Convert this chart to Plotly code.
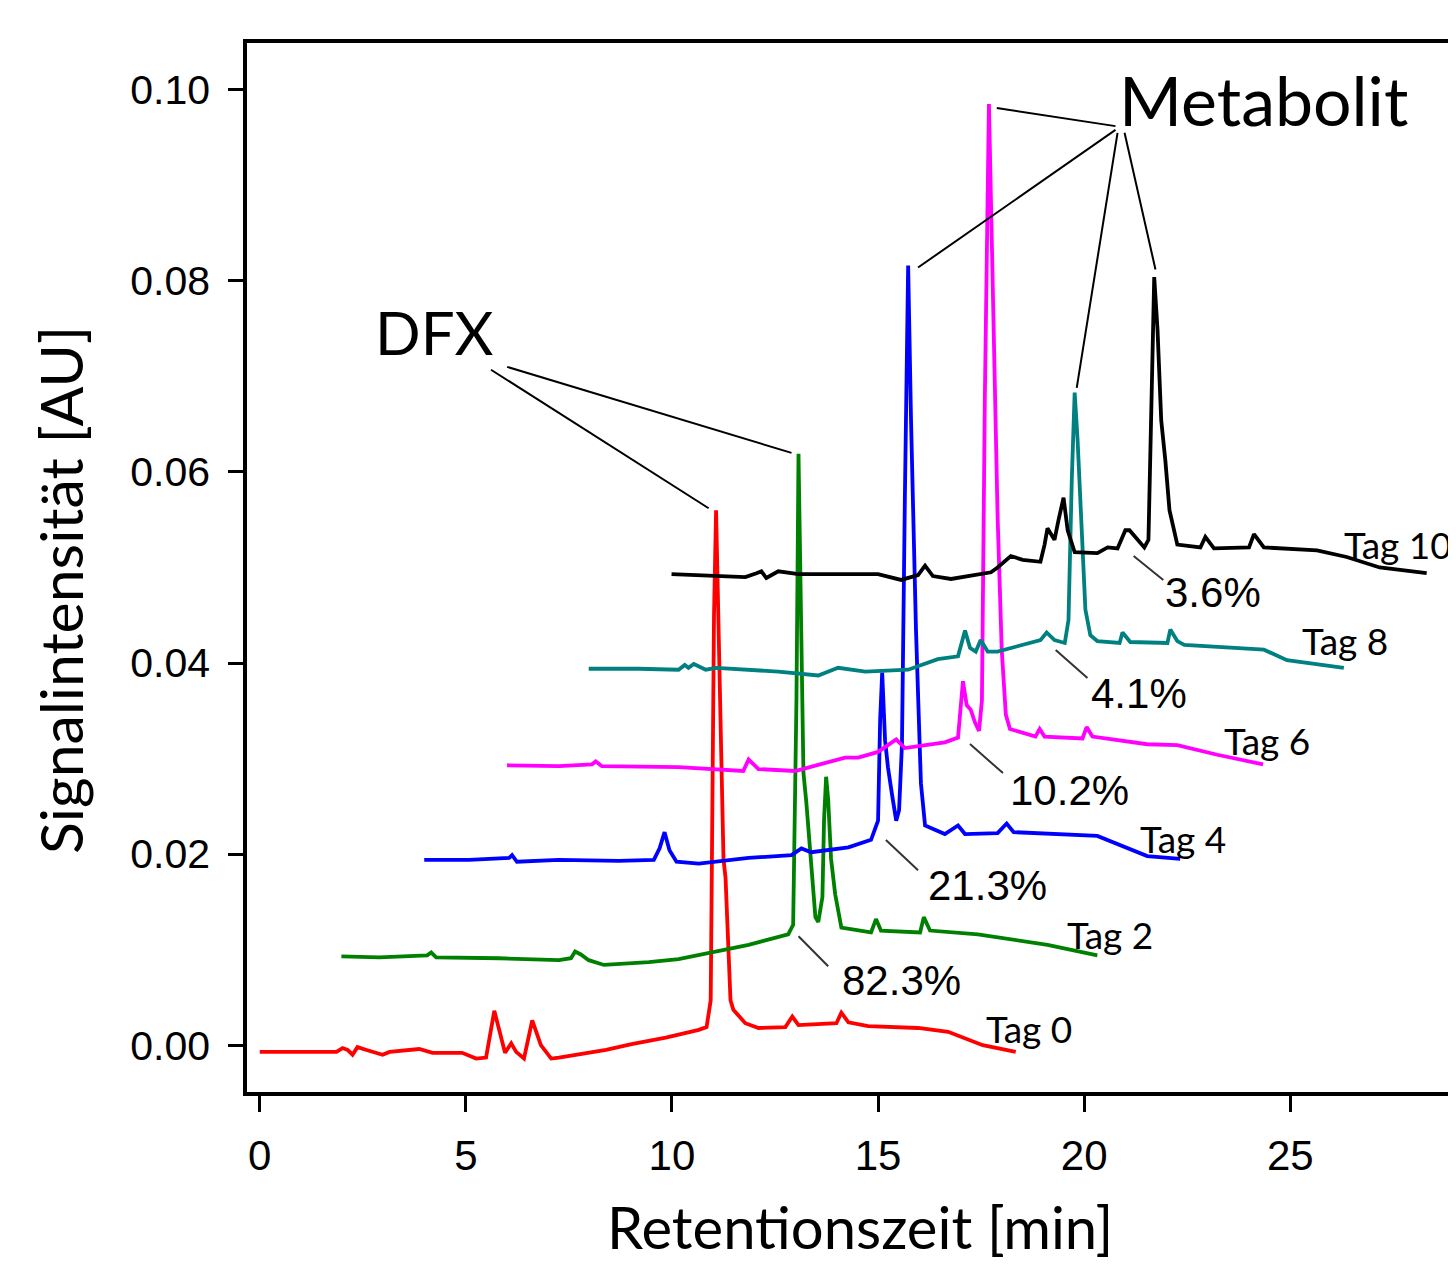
import plotly.graph_objects as go

# ---------------- data (retention time [min], signal [AU]) ----------------
tag0_t = [0.0, 1.86, 2.01, 2.13, 2.25, 2.37, 2.59, 2.98, 3.15, 3.87, 4.19, 4.91, 5.25, 5.49, 5.69, 5.95, 6.10, 6.22, 6.41, 6.61, 6.82, 7.07, 7.26, 8.40, 9.02, 9.85, 10.65, 10.84, 10.94, 10.98, 11.02, 11.07, 11.12, 11.18, 11.25, 11.30, 11.42, 11.49, 11.78, 12.10, 12.75, 12.92, 13.07, 13.99, 14.11, 14.28, 14.76, 15.97, 16.70, 17.54, 17.90, 18.34]
tag0_y = [-0.0007, -0.0007, -0.0003, -0.0005, -0.0010, -0.0002, -0.0005, -0.0010, -0.0007, -0.0004, -0.0008, -0.0008, -0.0014, -0.0013, 0.0036, -0.0008, 0.0002, -0.0007, -0.0014, 0.0026, 0.0000, -0.0014, -0.0013, -0.0005, 0.0001, 0.0008, 0.0016, 0.0019, 0.0047, 0.0274, 0.0450, 0.0560, 0.0450, 0.0339, 0.0195, 0.0175, 0.0047, 0.0037, 0.0023, 0.0018, 0.0019, 0.0030, 0.0021, 0.0023, 0.0034, 0.0024, 0.0020, 0.0018, 0.0014, 0.0000, -0.0003, -0.0007]

tag2_t = [1.98, 2.90, 4.06, 4.16, 4.28, 5.81, 7.26, 7.55, 7.65, 7.79, 7.98, 8.35, 9.44, 10.16, 11.86, 12.82, 12.94, 13.02, 13.07, 13.14, 13.19, 13.26, 13.36, 13.48, 13.55, 13.65, 13.69, 13.74, 13.79, 13.86, 13.96, 14.11, 14.83, 14.95, 15.07, 16.02, 16.11, 16.26, 17.42, 19.11, 20.32]
tag2_y = [0.0093, 0.0092, 0.0094, 0.0097, 0.0092, 0.0091, 0.0089, 0.0091, 0.0098, 0.0095, 0.0089, 0.0084, 0.0087, 0.0090, 0.0105, 0.0116, 0.0126, 0.0361, 0.0619, 0.0414, 0.0285, 0.0254, 0.0195, 0.0134, 0.0129, 0.0155, 0.0236, 0.0281, 0.0257, 0.0195, 0.0158, 0.0123, 0.0118, 0.0132, 0.0120, 0.0118, 0.0134, 0.0120, 0.0116, 0.0105, 0.0094]

tag4_t = [3.99, 5.08, 6.05, 6.12, 6.24, 7.26, 8.71, 9.56, 9.70, 9.82, 9.94, 10.11, 10.65, 11.86, 12.90, 13.14, 13.38, 14.28, 14.83, 15.00, 15.05, 15.10, 15.17, 15.24, 15.34, 15.44, 15.51, 15.58, 15.65, 15.73, 15.80, 15.92, 16.04, 16.14, 16.62, 16.94, 17.11, 17.90, 18.12, 18.29, 20.32, 21.53, 22.33]
tag4_y = [0.0194, 0.0194, 0.0196, 0.0199, 0.0192, 0.0194, 0.0193, 0.0194, 0.0206, 0.0223, 0.0204, 0.0192, 0.0190, 0.0196, 0.0199, 0.0206, 0.0202, 0.0207, 0.0215, 0.0235, 0.0340, 0.0390, 0.0319, 0.0291, 0.0262, 0.0235, 0.0246, 0.0315, 0.0571, 0.0816, 0.0654, 0.0435, 0.0274, 0.0230, 0.0221, 0.0230, 0.0221, 0.0222, 0.0232, 0.0223, 0.0219, 0.0198, 0.0195]

tag6_t = [6.00, 7.26, 8.06, 8.15, 8.30, 10.16, 11.73, 11.86, 12.10, 12.99, 14.20, 14.52, 15.00, 15.44, 15.65, 16.62, 16.94, 17.01, 17.06, 17.15, 17.25, 17.35, 17.45, 17.52, 17.59, 17.69, 17.78, 17.86, 17.90, 18.00, 18.10, 18.20, 18.82, 18.92, 19.04, 19.96, 20.06, 20.20, 21.53, 22.26, 23.23, 24.34]
tag6_y = [0.0293, 0.0292, 0.0294, 0.0297, 0.0292, 0.0291, 0.0287, 0.0299, 0.0289, 0.0287, 0.0301, 0.0301, 0.0307, 0.0320, 0.0311, 0.0317, 0.0322, 0.0351, 0.0381, 0.0356, 0.0351, 0.0338, 0.0329, 0.0361, 0.0675, 0.0985, 0.0780, 0.0602, 0.0554, 0.0414, 0.0346, 0.0331, 0.0323, 0.0331, 0.0323, 0.0321, 0.0333, 0.0323, 0.0315, 0.0314, 0.0304, 0.0294]

tag8_t = [7.98, 9.19, 10.16, 10.31, 10.40, 10.53, 10.82, 11.08, 12.58, 13.55, 14.03, 14.69, 15.73, 16.45, 16.94, 17.01, 17.11, 17.23, 17.37, 17.49, 17.66, 17.90, 18.56, 18.94, 19.09, 19.28, 19.53, 19.62, 19.70, 19.77, 19.84, 19.94, 20.03, 20.15, 20.32, 20.86, 20.93, 21.12, 22.02, 22.09, 22.26, 22.43, 24.36, 24.92, 26.30]
tag8_y = [0.0394, 0.0394, 0.0393, 0.0398, 0.0395, 0.0399, 0.0393, 0.0395, 0.0391, 0.0387, 0.0395, 0.0391, 0.0393, 0.0404, 0.0407, 0.0419, 0.0434, 0.0416, 0.0412, 0.0424, 0.0412, 0.0412, 0.0420, 0.0424, 0.0432, 0.0424, 0.0421, 0.0445, 0.0592, 0.0683, 0.0634, 0.0529, 0.0456, 0.0429, 0.0423, 0.0421, 0.0432, 0.0422, 0.0421, 0.0435, 0.0423, 0.0419, 0.0414, 0.0403, 0.0395]

tag10_t = [9.99, 10.65, 11.78, 12.05, 12.17, 12.29, 12.58, 13.07, 14.28, 15.00, 15.56, 15.97, 16.14, 16.33, 16.77, 17.74, 17.90, 18.22, 18.51, 18.94, 19.04, 19.11, 19.21, 19.28, 19.38, 19.50, 19.60, 19.77, 20.32, 20.57, 20.81, 21.00, 21.10, 21.29, 21.46, 21.56, 21.63, 21.70, 21.78, 21.87, 21.97, 22.07, 22.26, 22.82, 22.94, 23.15, 24.00, 24.12, 24.36, 25.65, 26.37, 27.17, 28.31]
tag10_y = [0.0493, 0.0492, 0.0490, 0.0494, 0.0496, 0.0489, 0.0496, 0.0493, 0.0493, 0.0493, 0.0487, 0.0492, 0.0502, 0.0491, 0.0488, 0.0495, 0.0500, 0.0512, 0.0508, 0.0506, 0.0524, 0.0541, 0.0534, 0.0529, 0.0550, 0.0573, 0.0539, 0.0516, 0.0515, 0.0521, 0.0520, 0.0539, 0.0539, 0.0529, 0.0521, 0.0529, 0.0654, 0.0804, 0.0749, 0.0654, 0.0612, 0.0560, 0.0524, 0.0521, 0.0532, 0.0520, 0.0521, 0.0535, 0.0521, 0.0518, 0.0511, 0.0500, 0.0494]

series_names = ["Tag 0", "Tag 2", "Tag 4", "Tag 6", "Tag 8", "Tag 10"]
series_colors = ["#ff0000", "#008000", "#0000ff", "#ff00ff", "#008080", "#000000"]
series_t = [tag0_t, tag2_t, tag4_t, tag6_t, tag8_t, tag10_t]
series_y = [tag0_y, tag2_y, tag4_y, tag6_y, tag8_y, tag10_y]

# label positions (t, y) for day labels
label_t = [18.66, 20.62, 22.41, 24.44, 26.33, 26.25]
label_y = [0.00178, 0.01162, 0.02168, 0.03194, 0.04241, 0.05236]

# percentage annotations: text, text position, leader line start/end
pct_text = ["82.3%", "21.3%", "10.2%", "4.1%", "3.6%"]
pct_t = [15.56, 17.66, 19.65, 21.34, 23.13]
pct_y = [0.00681, 0.01675, 0.02670, 0.03686, 0.04743]
pct_line = [(13.07, 0.01141, 13.79, 0.00827),
            (15.19, 0.02147, 15.97, 0.01832),
            (17.23, 0.03152, 18.03, 0.02848),
            (19.31, 0.04136, 20.08, 0.03843),
            (21.20, 0.05120, 21.92, 0.04869)]

dfx_pos = (4.23, 0.0747)
dfx_lines = [(5.61, 0.0707, 10.89, 0.0562), (6.00, 0.0710, 12.90, 0.0620)]
met_pos = (24.34, 0.0990)
met_lines = [(20.76, 0.0962, 17.88, 0.0981), (20.76, 0.0958, 15.97, 0.0814),
             (20.81, 0.0955, 19.82, 0.0688), (20.98, 0.0955, 21.73, 0.0812)]

x_ticks = [0, 5, 10, 15, 20, 25]
y_ticks = [0.00, 0.02, 0.04, 0.06, 0.08, 0.10]

# ---------------- figure ----------------
fig = go.Figure()
for name, col, t, y in zip(series_names, series_colors, series_t, series_y):
    fig.add_trace(go.Scatter(x=t, y=y, mode="lines", name=name,
                             line=dict(color=col, width=3.8), showlegend=False))

TXT = "Lato"
NUM = "Liberation Sans"

ann = []
for name, t, y in zip(series_names, label_t, label_y):
    ann.append(dict(x=t, y=y, text=name, showarrow=False, xanchor="left" if name == "Tag 10" else "center",
                    yanchor="middle", font=dict(family=TXT, size=37, color="black")))
for txt, t, y in zip(pct_text, pct_t, pct_y):
    ann.append(dict(x=t, y=y, text=txt, showarrow=False, xanchor="center", yanchor="middle",
                    font=dict(family=NUM, size=42, color="black")))
ann.append(dict(x=dfx_pos[0], y=dfx_pos[1], text="DFX", showarrow=False, xanchor="center", yanchor="middle",
                font=dict(family=TXT, size=60, color="black")))
ann.append(dict(x=met_pos[0], y=met_pos[1], text="Metabolit", showarrow=False, xanchor="center", yanchor="middle",
                font=dict(family=TXT, size=68, color="black")))
ann.append(dict(xref="paper", yref="paper", x=0.509, y=-0.128, text="Retentionszeit [min]", showarrow=False,
                xanchor="center", yanchor="middle", font=dict(family=TXT, size=58, color="black")))
ann.append(dict(xref="paper", yref="paper", x=-0.155, y=0.479, text="Signalintensität [AU]", showarrow=False,
                textangle=-90, xanchor="center", yanchor="middle", font=dict(family=TXT, size=59, color="black")))

shapes = []
for (x0, y0, x1, y1) in pct_line:
    shapes.append(dict(type="line", x0=x0, y0=y0, x1=x1, y1=y1, line=dict(color="#333333", width=2)))
for (x0, y0, x1, y1) in dfx_lines + met_lines:
    shapes.append(dict(type="line", x0=x0, y0=y0, x1=x1, y1=y1, line=dict(color="black", width=2)))

fig.update_layout(
    width=1448, height=1260,
    margin=dict(l=239, r=1, t=35, b=176),
    paper_bgcolor="white", plot_bgcolor="white",
    annotations=ann, shapes=shapes,
)
fig.update_xaxes(range=[-0.31, 28.9], tickvals=x_ticks, ticktext=[str(v) for v in x_ticks],
                 showline=True, mirror=True, linecolor="black", linewidth=3.5,
                 ticks="outside", ticklen=16, tickwidth=3, tickcolor="black",
                 showgrid=False, zeroline=False, ticklabelstandoff=8,
                 tickfont=dict(family=NUM, size=42, color="black"))
fig.update_yaxes(range=[-0.0049, 0.1049], tickvals=y_ticks, ticktext=["%.2f" % v for v in y_ticks],
                 showline=True, mirror=True, linecolor="black", linewidth=3.5,
                 ticks="outside", ticklen=15, tickwidth=3, tickcolor="black",
                 showgrid=False, zeroline=False, ticklabelstandoff=10,
                 tickfont=dict(family=NUM, size=41, color="black"))

fig.write_html("out.html")
